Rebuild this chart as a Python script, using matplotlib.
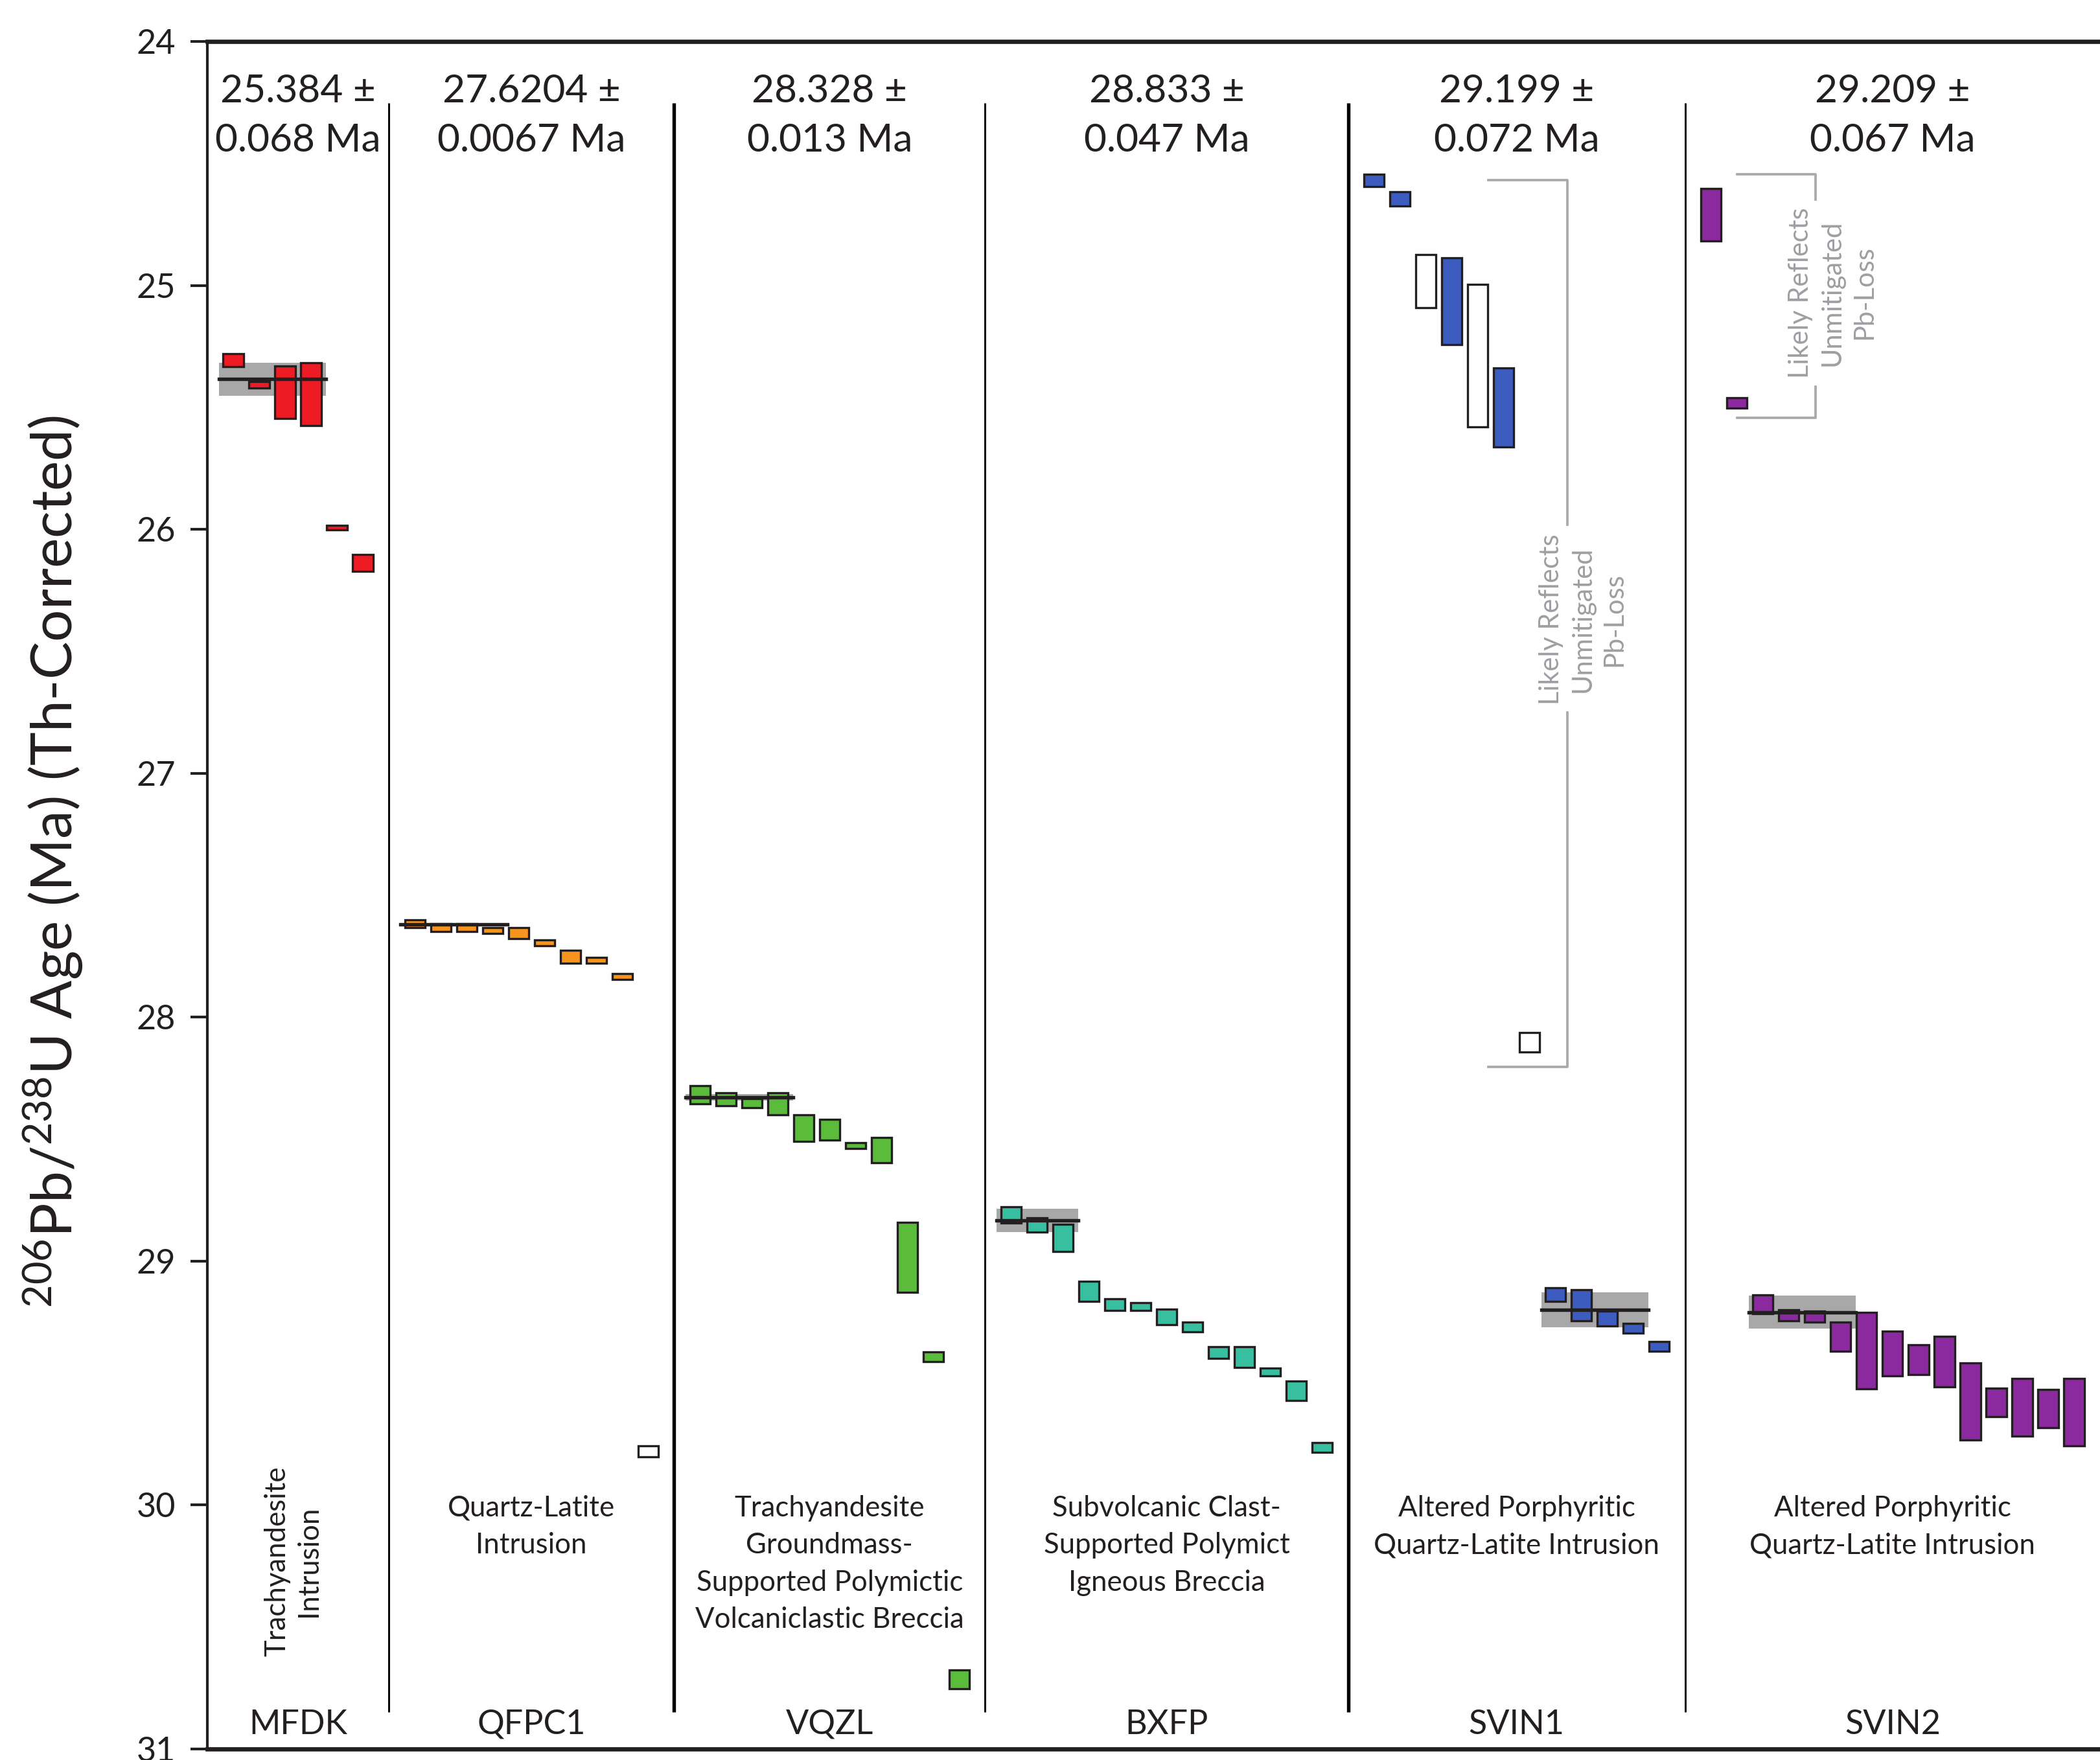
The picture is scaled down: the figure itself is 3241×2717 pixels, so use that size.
import numpy as np
import matplotlib.pyplot as plt

plt.rcParams['font.family'] = ['Lato', 'DejaVu Sans']
plt.rcParams['mathtext.default'] = 'regular'

# sample names, one panel each
samples = ['MFDK', 'QFPC1', 'VQZL', 'BXFP', 'SVIN1', 'SVIN2']
lithology = ['Trachyandesite\nIntrusion',
             'Quartz-Latite\nIntrusion',
             'Trachyandesite\nGroundmass-\nSupported Polymictic\nVolcaniclastic Breccia',
             'Subvolcanic Clast-\nSupported Polymict\nIgneous Breccia',
             'Altered Porphyritic\nQuartz-Latite Intrusion',
             'Altered Porphyritic\nQuartz-Latite Intrusion']

# single zircon ages (Ma) and 2s half-widths
mfdk_age = [25.307, 25.408, 25.438, 25.446, 25.994, 26.138]
mfdk_err = [0.027, 0.013, 0.108, 0.129, 0.009, 0.035]
qfpc1_age = [27.617, 27.633, 27.633, 27.644, 27.655, 27.695, 27.753, 27.768, 27.833, 29.780]
qfpc1_err = [0.015, 0.015, 0.015, 0.012, 0.023, 0.012, 0.027, 0.012, 0.013, 0.022]
vqzl_age = [28.317, 28.336, 28.352, 28.355, 28.454, 28.461, 28.526, 28.545, 28.985, 29.392, 30.715]
vqzl_err = [0.037, 0.027, 0.019, 0.044, 0.055, 0.042, 0.012, 0.052, 0.143, 0.020, 0.039]
bxfp_age = [28.810, 28.851, 28.905, 29.124, 29.178, 29.186, 29.229, 29.269, 29.374, 29.393, 29.454, 29.531, 29.763]
bxfp_err = [0.033, 0.029, 0.055, 0.041, 0.024, 0.016, 0.031, 0.020, 0.024, 0.042, 0.016, 0.040, 0.020]
svin1_age = [24.570, 24.645, 24.983, 25.065, 25.288, 25.500, 28.103, 29.137, 29.181, 29.235, 29.275, 29.349]
svin1_err = [0.025, 0.029, 0.109, 0.178, 0.292, 0.162, 0.040, 0.028, 0.064, 0.030, 0.020, 0.020]
svin2_age = [24.710, 25.481, 29.177, 29.222, 29.228, 29.310, 29.367, 29.378, 29.404, 29.412,
             29.575, 29.579, 29.599, 29.605, 29.619]
svin2_err = [0.108, 0.021, 0.038, 0.023, 0.023, 0.060, 0.156, 0.092, 0.061, 0.104,
             0.158, 0.059, 0.118, 0.078, 0.138]

# open (unfilled) analyses per sample
open_idx = [[], [9], [], [], [2, 4, 6], []]

# weighted mean ages and uncertainty, and which analyses the bar spans
wm_age = [25.384, 27.6204, 28.328, 28.833, 29.199, 29.209]
wm_unc = [0.068, 0.0067, 0.013, 0.047, 0.072, 0.067]
wm_text = ['25.384 \u00b1\n0.068 Ma', '27.6204 \u00b1\n0.0067 Ma', '28.328 \u00b1\n0.013 Ma',
           '28.833 \u00b1\n0.047 Ma', '29.199 \u00b1\n0.072 Ma', '29.209 \u00b1\n0.067 Ma']
wm_range = [(0, 3), (0, 3), (0, 3), (0, 2), (7, 10), (2, 5)]

colors = ['#ED1C24', '#F7941D', '#5BBC3C', '#38BFA0', '#3D5CC0', '#8B2A9E']

ages = [mfdk_age, qfpc1_age, vqzl_age, bxfp_age, svin1_age, svin2_age]
errs = [mfdk_err, qfpc1_err, vqzl_err, bxfp_err, svin1_err, svin2_err]

W, H = 3241, 2717
fig = plt.figure(figsize=(W / 300, H / 300), dpi=300)
ax = fig.add_axes([320 / W, 17 / H, 2921 / W, 2636 / H])

edge = '#231F20'
left = 0
lefts = []
for k in range(len(samples)):
    a = np.array(ages[k])
    e = np.array(errs[k])
    n = len(a)
    x = left + 1 + np.arange(n)
    fc = [('white' if i in open_idx[k] else colors[k]) for i in range(n)]
    ax.bar(x, 2 * e, bottom=a - e, width=0.78, color=fc, edgecolor=edge,
           linewidth=0.8, zorder=3)
    i0, i1 = wm_range[k]
    x0, x1 = left + 1 + i0 - 0.55, left + 1 + i1 + 0.58
    ax.fill_between([x0, x1], wm_age[k] - wm_unc[k], wm_age[k] + wm_unc[k],
                    color='#A8A8A8', linewidth=0, zorder=2)
    ax.plot([x0, x1], [wm_age[k], wm_age[k]], color=edge, lw=1.3, zorder=4)
    lefts.append(left)
    left += n + 1
right = left

# panel dividers
for k in range(1, len(samples)):
    ax.vlines(lefts[k], 24.253, 30.848, color='black',
              lw=1.3 if k in (2, 4) else 0.7, zorder=1)

# text in each panel
for k in range(len(samples)):
    lo = lefts[k]
    hi = lefts[k + 1] if k + 1 < len(samples) else right
    cx = (lo + hi) / 2
    ax.text(cx, 24.305, wm_text[k], ha='center', va='center', fontsize=14.5,
            linespacing=1.5, color='#231F20')
    ax.text(cx, 30.9, samples[k], ha='center', va='center', fontsize=12.5,
            color='#231F20')
    if k == 0:
        ax.text(cx - 0.2, 30.23, lithology[k], ha='center', va='center',
                rotation=90, fontsize=10.5, linespacing=1.25, color='#231F20')
    else:
        ax.text(cx, 29.958, lithology[k], ha='center', va='top', fontsize=10.5,
                linespacing=1.5, color='#231F20')

# Pb-loss brackets
grey = '#A7A9AC'
note = 'Likely Reflects\nUnmitigated\nPb-Loss'
bx = lefts[4] + 8.45
ax.plot([lefts[4] + 5.4, bx, bx], [24.568, 24.568, 25.98], color=grey, lw=0.9)
ax.plot([bx, bx, lefts[4] + 5.4], [26.75, 28.203, 28.203], color=grey, lw=0.9)
ax.text(bx + 0.6, 26.37, note, rotation=90, ha='center', va='center',
        fontsize=10, color='#9D9FA2', linespacing=1.35)
bx2 = lefts[5] + 5.03
ax.plot([lefts[5] + 2.0, bx2, bx2], [24.544, 24.544, 24.648], color=grey, lw=0.9)
ax.plot([bx2, bx2, lefts[5] + 2.0], [25.415, 25.543, 25.543], color=grey, lw=0.9)
ax.text(bx2 + 0.65, 25.03, note, rotation=90, ha='center', va='center',
        fontsize=10, color='#9D9FA2', linespacing=1.35)

ax.set_xlim(0, right)
ax.set_ylim(31, 24)
ax.set_yticks(np.arange(24, 32))
ax.set_xticks([])
ax.tick_params(axis='y', direction='out', length=6.2, width=1.0, labelsize=12.5,
               pad=5.5, colors='#231F20')
ax.spines['right'].set_visible(False)
ax.spines['top'].set_linewidth(1.6)
ax.spines['bottom'].set_linewidth(1.6)
ax.spines['left'].set_linewidth(1.0)
for s in ax.spines.values():
    s.set_color('#231F20')

fig.text(82 / W, 1 - 1330 / H, '$^{206}$Pb/$^{238}$U Age (Ma) (Th-Corrected)',
         rotation=90, ha='center', va='center', fontsize=21, color='#231F20')

fig.savefig('out.png', dpi=300)
